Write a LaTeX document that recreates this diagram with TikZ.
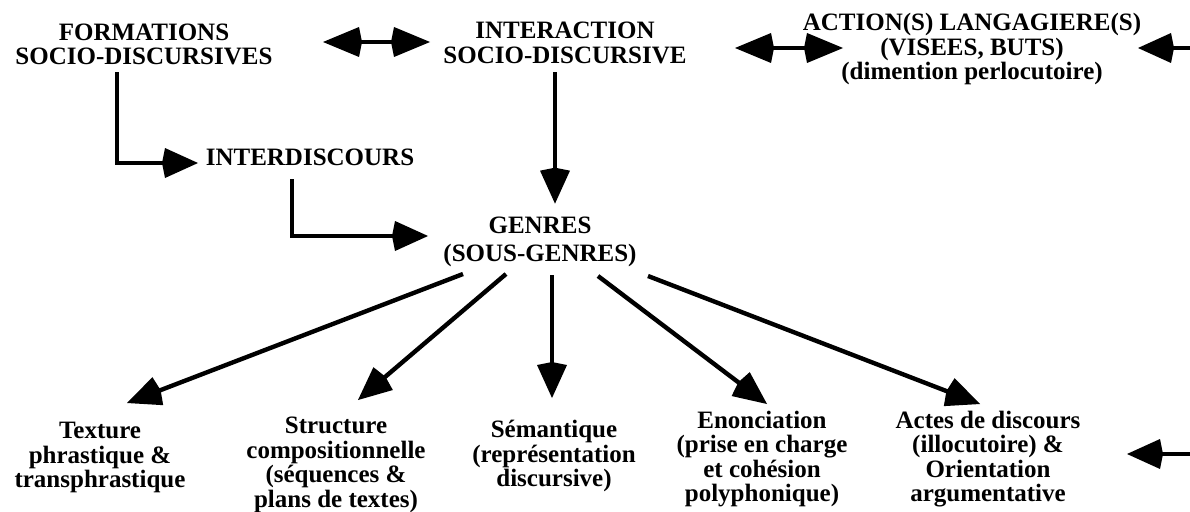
\documentclass[tikz,border=0pt]{standalone}
\usepackage{fontspec}
\setmainfont{Liberation Serif}
\usetikzlibrary{arrows.meta,calc}
\begin{document}
\begin{tikzpicture}[x=1pt,y=-1pt,
  lbl/.style={font=\bfseries\fontsize{25}{24.5}\selectfont, align=center, inner sep=0pt},
  arr/.style={line width=4.4pt, -{Kite[length=36pt,width=30pt,inset=3pt]}},
  darr/.style={line width=4.4pt, {Kite[length=39pt,width=30pt,inset=3pt]}-{Kite[length=39pt,width=30pt,inset=3pt]}}]
\useasboundingbox (0,0) rectangle (1190,511);

% top row
\node[lbl] (formations) at (144,44.5) {FORMATIONS\\SOCIO-DISCURSIVES};
\node[lbl] (interaction) at (565,43) {INTERACTION\\SOCIO-DISCURSIVE};
\node[lbl] (action) at (972,49) {ACTION(S) LANGAGIERE(S)\\(VISEES, BUTS)\\(dimention perlocutoire)};
\node[lbl] (interdiscours) at (310,157) {INTERDISCOURS};
\node[lbl, font=\bfseries\fontsize{25}{28.4}\selectfont] (genres) at (540,242) {GENRES\\(SOUS-GENRES)};

% bottom row
\node[lbl] (texture) at (100,457.5) {Texture\\phrastique \&\\transphrastique};
\node[lbl] (structure) at (336,465) {Structure\\compositionnelle\\(séquences \&\\plans de textes)};
\node[lbl] (semantique) at (554,456) {Sémantique\\(représentation\\discursive)};
\node[lbl] (enonciation) at (762,459) {Enonciation\\(prise en charge\\et cohésion\\polyphonique)};
\node[lbl] (actes) at (988,459) {Actes de discours\\(illocutoire) \&\\Orientation\\argumentative};

% connectors, top
\coordinate (f1) at (323,42);
\coordinate (i1) at (430,42);
\draw[darr] (f1) -- (i1);
\coordinate (i2) at (735,48);
\coordinate (a2) at (843,48);
\draw[darr] (i2) -- (a2);
\coordinate (re1) at (1190,48);
\draw[arr] (re1) -- ++(-52,0);

\coordinate (fs) at (117,72);
\coordinate (it) at (198,163);
\draw[arr] (fs) |- (it);
\coordinate (ds) at (292,179);
\coordinate (gt) at (428,236);
\draw[arr] (ds) |- (gt);
\coordinate (is) at (555,72);
\draw[arr] (is) -- ($(is |- genres.north)+(0,-13)$);

% fan
\coordinate (g1) at (463,274);
\coordinate (g2) at (506,274);
\coordinate (g3) at (552,275);
\coordinate (g4) at (598,276);
\coordinate (g5) at (648,276);
\coordinate (t1) at (127,403);
\coordinate (t2) at (358,400);
\coordinate (t3) at (552,398);
\coordinate (t4) at (767,404);
\coordinate (t5) at (980,404);
\draw[arr] (g1) -- (t1);
\draw[arr] (g2) -- (t2);
\draw[arr] (g3) -- (t3);
\draw[arr] (g4) -- (t4);
\draw[arr] (g5) -- (t5);

\coordinate (re2) at (1190,454);
\draw[arr] (re2) -- ++(-63,0);
\end{tikzpicture}
\end{document}
